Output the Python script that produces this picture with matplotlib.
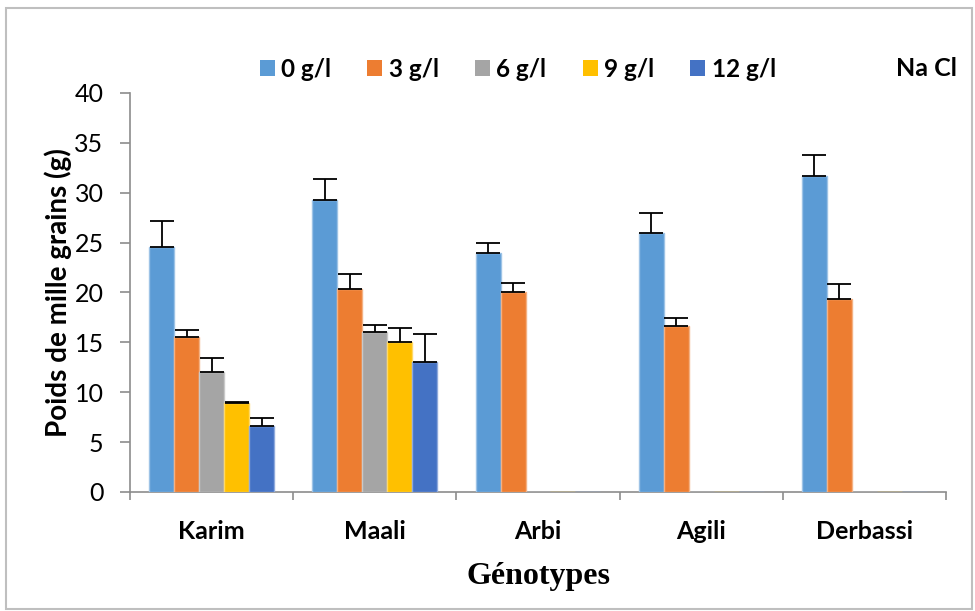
import numpy as np
import matplotlib.pyplot as plt
from matplotlib.patches import Rectangle, Patch

# Data ------------------------------------------------------------------------
genotypes = ['Karim', 'Maali', 'Arbi', 'Agili', 'Derbassi']
doses = ['0 g/l', '3 g/l', '6 g/l', '9 g/l', '12 g/l']
mean_0 = [24.6, 29.3, 24.0, 26.0, 31.7]
mean_3 = [15.5, 20.3, 20.0, 16.6, 19.3]
mean_6 = [12.0, 16.0, 0, 0, 0]
mean_9 = [8.95, 15.0, 0, 0, 0]
mean_12 = [6.6, 13.0, 0, 0, 0]
err_0 = [2.6, 2.1, 1.0, 2.0, 2.1]
err_3 = [0.7, 1.6, 1.0, 0.8, 1.6]
err_6 = [1.4, 0.7, 0, 0, 0]
err_9 = [0.05, 1.4, 0, 0, 0]
err_12 = [0.8, 2.8, 0, 0, 0]

means = [mean_0, mean_3, mean_6, mean_9, mean_12]
errs = [err_0, err_3, err_6, err_9, err_12]
fills = ['#5B9BD5', '#ED7D31', '#A5A5A5', '#FFC000', '#4472C4']
edges = ['#9DC3E6', '#F4B183', '#C9C9C9', '#FFD966', '#8FAADC']

plt.rcParams['font.family'] = ['Lato', 'DejaVu Sans']

fig = plt.figure(figsize=(9.75, 6.11), dpi=100)
ax = fig.add_axes([0.1333, 0.1948, 0.8370, 0.6530])

x = np.arange(len(genotypes))
w = 0.153
for i in range(len(doses)):
    pos = x + (i - 2) * w
    ax.bar(pos, means[i], width=w, color=fills[i], edgecolor=edges[i],
           linewidth=1.0, zorder=3)
    m = np.array(means[i])
    ok = m > 0
    ax.errorbar(pos[ok], m[ok], yerr=[np.zeros(ok.sum()), np.array(errs[i])[ok]],
                fmt='none', ecolor='black', elinewidth=1.3, capsize=8.5,
                capthick=1.3, zorder=4)

ax.set_xlim(-0.5, 4.5)
ax.set_ylim(0, 40)
ax.set_yticks(range(0, 41, 5))
ax.set_xticks(x)
ax.set_xticklabels(genotypes, fontsize=18, fontweight='bold')
ax.set_xticks(np.arange(-0.5, 4.6, 1), minor=True)
ax.tick_params(axis='x', which='major', length=0, pad=20)
ax.tick_params(axis='x', which='minor', length=6, color='#8C8C8C', width=1.2)
ax.tick_params(axis='y', labelsize=18, length=7, color='#8C8C8C', width=1.2, pad=12)
for s in ['top', 'right']:
    ax.spines[s].set_visible(False)
for s in ['left', 'bottom']:
    ax.spines[s].set_color('#8C8C8C')
    ax.spines[s].set_linewidth(1.2)

ax.set_ylabel('Poids de mille grains (g)', fontsize=20, fontweight='bold', labelpad=2)
ax.set_xlabel('Génotypes', fontsize=23, fontweight='bold',
              family=['Liberation Serif', 'DejaVu Serif'], labelpad=14)

handles = [Patch(facecolor=fills[i], edgecolor='none') for i in range(len(doses))]
fig.legend(handles, doses, loc='center', bbox_to_anchor=(0.531, 0.887), ncol=5,
           frameon=False, prop={'size': 17.5, 'weight': 'bold'},
           handlelength=0.62, handleheight=0.62, handletextpad=0.25, columnspacing=1.5)
fig.text(0.982, 0.888, 'Na Cl', fontsize=18, fontweight='bold', ha='right', va='center')

fig.patches.append(Rectangle((0.006, 0.004), 0.991, 0.983, transform=fig.transFigure,
                             fill=False, edgecolor='#BFBFBF', linewidth=1.5))

fig.savefig('out.png', dpi=100)
